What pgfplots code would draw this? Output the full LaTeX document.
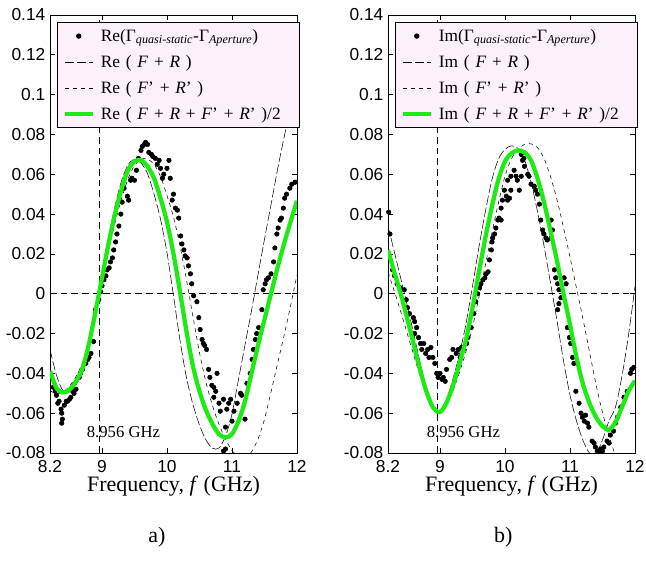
\documentclass[border=0pt]{standalone}
\usepackage{fontspec}
\setmainfont{Liberation Serif}
\setsansfont{Liberation Sans}
\usepackage{pgfplots}
\pgfplotsset{compat=1.18}
\definecolor{lg}{RGB}{30,235,20}
\definecolor{legbg}{RGB}{252,240,250}
\pgfplotsset{myax/.style={
  width=185.25pt, height=328.5pt, scale only axis,
  xmin=8.2, xmax=12, ymin=-0.08, ymax=0.14,
  xtick={8.2,9,10,11,12}, xticklabels={8.2,9,10,11,12},
  ytick={-0.08,-0.06,-0.04,-0.02,0,0.02,0.04,0.06,0.08,0.1,0.12,0.14},
  yticklabels={-0.08,-0.06,-0.04,-0.02,0,0.02,0.04,0.06,0.08,0.1,0.12,0.14},
  tick align=inside, tick pos=both, major tick length=3.5pt,
  tick style={black, line width=0.5pt},
  ticklabel style={font=\sffamily\fontsize{13}{13}\selectfont},
  xticklabel style={yshift=-2pt},
  xlabel={Frequency, \textit{f} (GHz)},
  xlabel style={font=\fontsize{16.5}{17}\selectfont, at={(axis description cs:0.5,0)}, anchor=center, yshift=-25pt},
  axis line style={line width=0.6pt},
  legend image code/.code={\draw[mark repeat=2,mark phase=2,##1] plot coordinates {(0pt,0pt) (10.5pt,0pt) (21pt,0pt)};},
  legend style={fill=legbg, draw=black, line width=0.6pt, font=\fontsize{13}{15}\selectfont,
    at={(rel axis cs:0.028,0.984)}, anchor=north west, legend cell align=left,
    inner xsep=4pt, inner ysep=3pt, row sep=5pt,
    nodes={text width=140pt, inner xsep=4.5pt, inner ysep=2pt}},
  clip mode=individual,
}}
\begin{document}
\begin{tikzpicture}
\path[use as bounding box] (-37.5pt,-81.75pt) rectangle (447pt,339.75pt);
% ---------------- a) Real part ----------------
\begin{axis}[myax]
\addplot[forget plot, black, line width=0.5pt, dash pattern=on 5pt off 3pt] coordinates {(8.2,0) (12,0)};
\addplot[forget plot, black, line width=0.5pt, dash pattern=on 5pt off 3pt] coordinates {(8.956,-0.08) (8.956,0.14)};
\addplot[only marks, mark=*, mark size=1.7pt, black] table {
8.25 -0.047
8.28 -0.049
8.30 -0.051
8.32 -0.055
8.34 -0.054
8.37 -0.058
8.38 -0.060
8.39 -0.063
8.38 -0.065
8.42 -0.056
8.45 -0.054
8.47 -0.054
8.50 -0.053
8.52 -0.052
8.55 -0.049
8.57 -0.050
8.60 -0.048
8.65 -0.042
8.67 -0.040
8.70 -0.038
8.75 -0.035
8.78 -0.033
8.80 -0.032
8.83 -0.030
8.87 -0.024
8.90 -0.008
8.95 -0.003
8.98 0.001
9.00 0.004
9.03 0.007
9.06 0.009
9.08 0.012
9.11 0.013
9.13 0.016
9.16 0.018
9.18 0.022
9.21 0.026
9.23 0.030
9.26 0.034
9.29 0.040
9.31 0.046
9.34 0.053
9.39 0.049
9.41 0.047
9.44 0.057
9.46 0.058
9.50 0.057
9.53 0.062
9.56 0.068
9.60 0.072
9.62 0.074
9.65 0.075
9.67 0.076
9.70 0.075
9.72 0.071
9.76 0.070
9.78 0.069
9.82 0.068
9.85 0.065
9.88 0.067
9.90 0.063
9.93 0.058
9.95 0.060
10.00 0.063
10.03 0.067
10.05 0.058
10.08 0.047
10.10 0.050
10.13 0.043
10.16 0.042
10.18 0.038
10.21 0.029
10.23 0.025
10.26 0.022
10.28 0.019
10.31 0.018
10.33 0.014
10.36 0.010
10.38 0.005
10.41 -0.001
10.46 -0.004
10.49 -0.012
10.51 -0.018
10.54 -0.023
10.56 -0.025
10.58 -0.026
10.61 -0.028
10.64 -0.038
10.66 -0.042
10.69 -0.046
10.72 -0.052
10.72 -0.047
10.75 -0.049
10.77 -0.040
10.80 -0.055
10.82 -0.059
10.87 -0.053
10.90 -0.067
10.92 -0.058
10.95 -0.055
10.98 -0.053
11.00 -0.064
11.03 -0.059
10.90 -0.078
10.87 -0.079
11.08 -0.055
11.13 -0.050
11.15 -0.051
11.20 -0.063
11.23 -0.045
11.28 -0.040
11.31 -0.033
11.33 -0.028
11.36 -0.023
11.38 -0.020
11.41 -0.017
11.46 -0.008
11.48 0.002
11.51 0.005
11.53 0.007
11.56 0.008
11.60 0.010
11.64 0.016
11.66 0.023
11.69 0.030
11.71 0.033
11.74 0.037
11.76 0.038
11.79 0.043
11.81 0.048
11.84 0.050
11.89 0.053
11.92 0.055
11.97 0.056
};
\addlegendentry{Re(Γ\textsubscript{\textit{quasi-static}}-Γ\textsubscript{\textit{Aperture}})}
\addplot[black, line width=0.4pt, dash pattern=on 7pt off 2pt, smooth] table {
8.2 -0.028
8.3 -0.041
8.4 -0.0487
8.5 -0.0494
8.6 -0.0457
8.7 -0.0397
8.8 -0.0281
8.9 -0.0100
9.0 0.0097
9.1 0.0280
9.2 0.0439
9.3 0.0566
9.4 0.0647
9.5 0.0675
9.6 0.0657
9.7 0.0603
9.8 0.0501
9.9 0.0375
10.0 0.0206
10.1 -0.0010
10.2 -0.0234
10.3 -0.0422
10.4 -0.0557
10.5 -0.0660
10.6 -0.0735
10.7 -0.0776
10.8 -0.0775
10.9 -0.0716
11.0 -0.0604
11.1 -0.0431
11.2 -0.0257
11.3 -0.0085
11.4 0.0095
11.5 0.0274
11.6 0.0447
11.7 0.0622
11.8 0.0783
11.9 0.0929
12.0 0.1049
};
\addlegendentry{Re ( \textit{F} + \textit{R} )}
\addplot[black, line width=0.4pt, dash pattern=on 3pt off 3pt, smooth] table {
8.2 -0.0487
8.3 -0.0503
8.4 -0.0494
8.5 -0.0464
8.6 -0.0416
8.7 -0.0345
8.8 -0.0238
8.9 -0.0085
9.0 0.0063
9.1 0.0216
9.2 0.0356
9.3 0.0477
9.4 0.0577
9.5 0.0644
9.6 0.0676
9.7 0.0676
9.8 0.0650
9.9 0.0589
10.0 0.0493
10.1 0.0385
10.2 0.0241
10.3 0.0070
10.4 -0.0116
10.5 -0.0296
10.6 -0.0445
10.7 -0.0562
10.8 -0.0656
10.9 -0.0730
11.0 -0.0788
11.1 -0.0819
11.2 -0.0826
11.3 -0.0794
11.4 -0.0730
11.5 -0.0630
11.6 -0.0494
11.7 -0.0352
11.8 -0.0212
11.9 -0.0063
12.0 0.0095
};
\addlegendentry{Re ( \textit{F}’ + \textit{R}’ )}
\addplot[lg, line width=3.2pt, smooth] table {
8.20 -0.0387
8.30 -0.0474
8.40 -0.0496
8.50 -0.0482
8.60 -0.0440
8.70 -0.0375
8.80 -0.0250
8.90 -0.0090
9.00 0.0080
9.10 0.0250
9.20 0.0400
9.30 0.0525
9.40 0.0620
9.50 0.0665
9.60 0.0670
9.70 0.0640
9.80 0.0580
9.90 0.0480
10.00 0.0360
10.10 0.0200
10.20 0.0010
10.30 -0.0190
10.40 -0.0365
10.50 -0.0490
10.60 -0.0585
10.70 -0.0655
10.80 -0.0705
10.90 -0.0722
11.00 -0.0705
11.10 -0.0640
11.20 -0.0540
11.30 -0.0400
11.40 -0.0260
11.50 -0.0130
11.60 0.0000
11.70 0.0130
11.80 0.0250
11.90 0.0360
12.00 0.0467
};
\addlegendentry{Re ( \textit{F} + \textit{R} + \textit{F}’ + \textit{R}’ )/2}
\node[font=\fontsize{12.5}{13}\selectfont] at (axis cs:9.33,-0.0697) {8.956 GHz};
\node[font=\fontsize{16.5}{17}\selectfont] at (axis description cs:0.433,0) [yshift=-63pt] {a)};
\end{axis}
% ---------------- b) Imaginary part ----------------
\begin{axis}[myax, at={(253.5pt,0pt)}]
\addplot[forget plot, black, line width=0.5pt, dash pattern=on 5pt off 3pt] coordinates {(8.2,0) (12,0)};
\addplot[forget plot, black, line width=0.5pt, dash pattern=on 5pt off 3pt] coordinates {(8.956,-0.08) (8.956,0.14)};
\addplot[only marks, mark=*, mark size=1.7pt, black] table {
8.21 0.041
8.23 0.030
8.27 0.012
8.30 0.009
8.34 0.005
8.39 0.003
8.45 0.002
8.48 -0.003
8.50 -0.007
8.53 -0.010
8.59 -0.012
8.61 -0.014
8.64 -0.017
8.61 -0.020
8.67 -0.022
8.70 -0.025
8.72 -0.028
8.75 -0.025
8.78 -0.030
8.81 -0.028
8.83 -0.032
8.86 -0.027
8.89 -0.032
8.92 -0.035
8.95 -0.040
8.97 -0.042
9.00 -0.040
9.03 -0.043
9.05 -0.042
9.08 -0.044
9.10 -0.038
9.15 -0.033
9.18 -0.032
9.20 -0.028
9.25 -0.030
9.28 -0.028
9.31 -0.032
9.33 -0.027
9.36 -0.028
9.41 -0.025
9.43 -0.022
9.48 -0.017
9.52 -0.010
9.55 -0.004
9.58 0.000
9.61 0.003
9.63 0.005
9.66 0.007
9.69 0.008
9.71 0.010
9.74 0.011
9.76 0.017
9.79 0.022
9.80 0.026
9.81 0.028
9.84 0.030
9.86 0.033
9.89 0.037
9.91 0.038
9.94 0.037
9.94 0.043
9.96 0.047
9.99 0.052
10.02 0.049
10.04 0.047
10.07 0.048
10.09 0.052
10.04 0.057
10.09 0.059
10.14 0.062
10.17 0.059
10.19 0.057
10.22 0.052
10.25 0.059
10.27 0.067
10.25 0.070
10.29 0.068
10.30 0.064
10.35 0.060
10.37 0.059
10.40 0.055
10.45 0.054
10.47 0.052
10.50 0.050
10.53 0.045
10.55 0.037
10.58 0.032
10.60 0.030
10.63 0.028
10.65 0.027
10.71 0.037
10.73 0.032
10.71 0.028
10.76 0.012
10.78 0.008
10.81 0.005
10.83 0.002
10.86 -0.002
10.83 -0.005
10.81 -0.008
10.91 0.008
10.94 0.005
10.96 -0.017
10.99 -0.022
11.01 -0.025
11.04 -0.032
11.06 -0.035
11.09 -0.049
11.14 -0.055
11.17 -0.060
11.19 -0.062
11.22 -0.064
11.24 -0.061
11.27 -0.065
11.29 -0.067
11.34 -0.074
11.37 -0.075
11.39 -0.077
11.42 -0.079
11.45 -0.079
11.47 -0.078
11.50 -0.079
11.52 -0.077
11.57 -0.074
11.60 -0.075
11.62 -0.071
11.67 -0.069
11.70 -0.065
11.73 -0.062
11.78 -0.057
11.83 -0.052
11.88 -0.049
11.93 -0.040
11.95 -0.038
11.98 -0.037
};
\addlegendentry{Im(Γ\textsubscript{\textit{quasi-static}}-Γ\textsubscript{\textit{Aperture}})}
\addplot[black, line width=0.4pt, dash pattern=on 7pt off 2pt, smooth] table {
8.2 0.0339
8.3 0.0207
8.4 0.0072
8.5 -0.0065
8.6 -0.0208
8.7 -0.0354
8.8 -0.0484
8.9 -0.0573
9.0 -0.0591
9.1 -0.0532
9.2 -0.0427
9.3 -0.0302
9.4 -0.0150
9.5 0.0038
9.6 0.0236
9.7 0.0416
9.8 0.0574
9.9 0.0677
10.0 0.0725
10.1 0.0743
10.2 0.0730
10.3 0.0673
10.4 0.0561
10.5 0.0412
10.6 0.0241
10.7 0.0054
10.8 -0.0136
10.9 -0.0336
11.0 -0.0509
11.1 -0.0639
11.2 -0.0737
11.3 -0.0800
11.4 -0.0803
11.5 -0.0734
11.6 -0.0638
11.7 -0.0569
11.8 -0.0413
11.9 -0.0208
12.0 0.0036
};
\addlegendentry{Im ( \textit{F} + \textit{R} )}
\addplot[black, line width=0.4pt, dash pattern=on 3pt off 3pt, smooth] table {
8.2 0.0108
8.3 0.0010
8.4 -0.0095
8.5 -0.0204
8.6 -0.0312
8.7 -0.0420
8.8 -0.0511
8.9 -0.0576
9.0 -0.0592
9.1 -0.0558
9.2 -0.0487
9.3 -0.0394
9.4 -0.0290
9.5 -0.0168
9.6 -0.0016
9.7 0.0148
9.8 0.0307
9.9 0.0458
10.0 0.0591
10.1 0.0678
10.2 0.0725
10.3 0.0750
10.4 0.0753
10.5 0.0734
10.6 0.0680
10.7 0.0589
10.8 0.0472
10.9 0.0332
11.0 0.0184
11.1 0.0028
11.2 -0.0127
11.3 -0.0292
11.4 -0.0455
11.5 -0.0597
11.6 -0.0714
11.7 -0.0813
11.8 -0.0892
11.9 -0.0952
12.0 -0.0967
};
\addlegendentry{Im ( \textit{F}’ + \textit{R}’ )}
\addplot[lg, line width=3.2pt, smooth] table {
8.2 0.0220
8.3 0.0105
8.4 -0.0005
8.5 -0.0130
8.6 -0.0260
8.7 -0.0390
8.8 -0.0500
8.9 -0.0575
9.0 -0.0594
9.1 -0.0548
9.2 -0.0460
9.3 -0.0350
9.4 -0.0230
9.5 -0.0070
9.6 0.0110
9.7 0.0285
9.8 0.0440
9.9 0.0575
10.0 0.0665
10.1 0.0705
10.2 0.0720
10.3 0.0710
10.4 0.0670
10.5 0.0580
10.6 0.0460
10.7 0.0315
10.8 0.0165
10.9 0.0000
11.0 -0.0155
11.1 -0.0320
11.2 -0.0455
11.3 -0.0550
11.4 -0.0620
11.5 -0.0665
11.6 -0.0683
11.7 -0.0645
11.8 -0.0570
11.9 -0.0490
12.0 -0.0437
};
\addlegendentry{Im ( \textit{F} + \textit{R} + \textit{F}’ + \textit{R}’ )/2}
\node[font=\fontsize{12.5}{13}\selectfont] at (axis cs:9.36,-0.0697) {8.956 GHz};
\node[font=\fontsize{16.5}{17}\selectfont] at (axis description cs:0.467,0) [yshift=-63pt] {b)};
\end{axis}
\end{tikzpicture}
\end{document}
